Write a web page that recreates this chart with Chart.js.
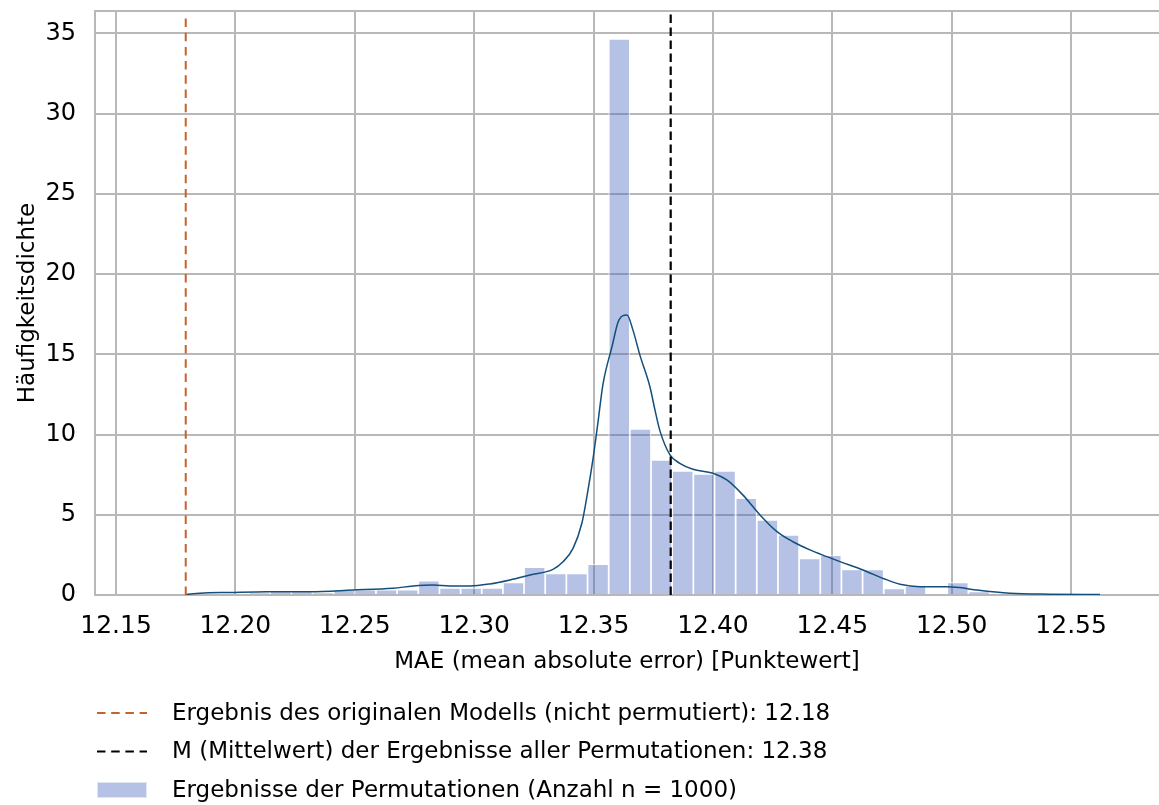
<!DOCTYPE html>
<html lang="de">
<head>
<meta charset="utf-8">
<title>Permutationstest MAE</title>
<script src="https://cdn.jsdelivr.net/npm/chart.js@4/dist/chart.umd.min.js"></script>
<style>
  html, body { margin: 0; padding: 0; background: #fff; }
  #wrap { width: 1159px; height: 805px; position: relative; }
</style>
</head>
<body>
<div id="wrap"><canvas id="histChart" width="1159" height="805"></canvas></div>
<script>
// Histogramm: Bin-Mitten und Häufigkeitsdichte
const binMitten = [
  12.21013, 12.21899, 12.22785, 12.23671, 12.24557, 12.25443, 12.26330, 12.27216,
  12.28102, 12.28988, 12.29874, 12.30760, 12.31646, 12.32532, 12.33418, 12.34304,
  12.35190, 12.36077, 12.36963, 12.37849, 12.38735, 12.39621, 12.40507, 12.41393,
  12.42279, 12.43165, 12.44051, 12.44937, 12.45823, 12.46709, 12.47596, 12.48482,
  12.49368, 12.50254, 12.51140
];
const dichte = [
  0.11, 0.23, 0.23, 0.11, 0.34, 0.34, 0.34, 0.34,
  0.90, 0.45, 0.45, 0.45, 0.79, 1.73, 1.35, 1.35,
  1.93, 34.67, 10.36, 8.42, 7.74, 7.55, 7.74, 6.03,
  4.68, 3.74, 2.29, 2.48, 1.60, 1.60, 0.42, 0.56,
  0, 0.79, 0.23
];

// Kerndichteschätzung (KDE-Kurve)
const kdeX = [
  12.1793, 12.1852, 12.1977, 12.2132, 12.2312, 12.2492, 12.2660, 12.2744, 12.2827,
  12.2899, 12.2982, 12.3066, 12.3150, 12.3234, 12.3330, 12.3372, 12.3414, 12.3451,
  12.3472, 12.3497, 12.3518, 12.3539, 12.3577, 12.3606, 12.3640, 12.3665, 12.3694,
  12.3736, 12.3757, 12.3778, 12.3820, 12.3861, 12.3916, 12.4000, 12.4058, 12.4125,
  12.4197, 12.4268, 12.4335, 12.4406, 12.4477, 12.4532, 12.4628, 12.4729, 12.4783,
  12.4867, 12.4980, 12.5034, 12.5106, 12.5244, 12.5411, 12.5621
];
const kdeY = [
  0.03, 0.11, 0.16, 0.21, 0.21, 0.31, 0.42, 0.56, 0.62,
  0.56, 0.56, 0.69, 0.94, 1.25, 1.60, 2.07, 2.91, 4.47,
  6.13, 8.42, 10.71, 13.10, 15.47, 17.13, 17.45, 16.51, 14.95,
  12.98, 11.54, 10.23, 8.73, 8.21, 7.84, 7.59, 7.17, 6.24,
  4.99, 3.95, 3.32, 2.81, 2.39, 2.08, 1.56, 0.94, 0.67,
  0.52, 0.52, 0.46, 0.31, 0.11, 0.05, 0.03
];

// Referenzlinien
const originalWert = 12.1792;
const mittelWert = 12.3823;
const linienHoehe = [0, 36.2];

// Achsen
const xTicks = [12.15, 12.20, 12.25, 12.30, 12.35, 12.40, 12.45, 12.50, 12.55];
const yTicks = [0, 5, 10, 15, 20, 25, 30, 35];

const legendTexte = [
  'Ergebnis des originalen Modells (nicht permutiert): 12.18',
  'M (Mittelwert) der Ergebnisse aller Permutationen: 12.38',
  'Ergebnisse der Permutationen (Anzahl n = 1000)'
];

const FONT = '"DejaVu Sans", Verdana, sans-serif';
const GRAU = '#b8b8b8';
const ORANGE = '#c6622c';
const BALKEN = 'rgba(70, 100, 190, 0.4)';
const KDE_FARBE = '#134f7c';

// Rahmen oben (die anderen Kanten kommen von den Achsen)
const rahmenPlugin = {
  id: 'rahmen',
  beforeDatasetsDraw(chart) {
    const { ctx, chartArea } = chart;
    ctx.save();
    ctx.strokeStyle = GRAU;
    ctx.lineWidth = 2;
    ctx.beginPath();
    ctx.moveTo(chartArea.left, chartArea.top);
    ctx.lineTo(chartArea.right, chartArea.top);
    ctx.stroke();
    ctx.restore();
  }
};

// Legende unter dem Diagramm
const legendePlugin = {
  id: 'legendeUnten',
  afterDraw(chart) {
    const ctx = chart.ctx;
    ctx.save();
    ctx.font = '23px ' + FONT;
    ctx.textBaseline = 'middle';
    ctx.textAlign = 'left';
    const farben = [ORANGE, '#000000'];
    legendTexte.forEach((text, i) => {
      const y = 713 + i * 38.5;
      if (i < 2) {
        ctx.strokeStyle = farben[i];
        ctx.lineWidth = 2;
        ctx.setLineDash([8.5, 5.7]);
        ctx.beginPath();
        ctx.moveTo(97, y);
        ctx.lineTo(147, y);
        ctx.stroke();
        ctx.setLineDash([]);
      } else {
        ctx.fillStyle = BALKEN;
        ctx.fillRect(97, y - 8, 50, 16);
        ctx.strokeStyle = 'rgba(255,255,255,0.6)';
        ctx.lineWidth = 1;
        ctx.strokeRect(97.5, y - 7.5, 49, 15);
      }
      ctx.fillStyle = '#000';
      ctx.fillText(text, 172, y + 1);
    });
    ctx.restore();
  }
};

new Chart(document.getElementById('histChart'), {
  type: 'bar',
  data: {
    datasets: [
      {
        type: 'line',
        label: legendTexte[0],
        data: linienHoehe.map(y => ({ x: originalWert, y: y })),
        borderColor: ORANGE,
        borderWidth: 2,
        borderDash: [8.5, 5.7],
        pointRadius: 0,
        order: 1
      },
      {
        type: 'line',
        label: legendTexte[1],
        data: linienHoehe.map(y => ({ x: mittelWert, y: y })),
        borderColor: '#000000',
        borderWidth: 2.2,
        borderDash: [8.5, 4.5],
        pointRadius: 0,
        order: 1
      },
      {
        type: 'line',
        label: 'KDE',
        data: kdeX.map((x, i) => ({ x: x, y: kdeY[i] })),
        borderColor: KDE_FARBE,
        borderWidth: 1.5,
        cubicInterpolationMode: 'monotone',
        pointRadius: 0,
        order: 2
      },
      {
        type: 'bar',
        label: legendTexte[2],
        data: binMitten.map((x, i) => ({ x: x, y: dichte[i] })),
        backgroundColor: BALKEN,
        borderColor: 'rgba(255,255,255,0.55)',
        borderWidth: 1.2,
        barPercentage: 1,
        categoryPercentage: 1,
        order: 3
      }
    ]
  },
  options: {
    responsive: false,
    animation: false,
    layout: { padding: { left: 0, right: 0, top: 11, bottom: 129 } },
    plugins: {
      legend: { display: false },
      tooltip: { enabled: false }
    },
    scales: {
      x: {
        type: 'linear',
        offset: false,
        min: 12.1412,
        max: 12.5868,
        afterBuildTicks: s => { s.ticks = xTicks.map(v => ({ value: v })); },
        afterFit: s => { s.height = 81; s.paddingLeft = 0; s.paddingRight = 0; },
        grid: { offset: false, color: GRAU, lineWidth: 2, drawTicks: false },
        border: { color: GRAU, width: 2 },
        ticks: {
          padding: 16,
          color: '#000',
          font: { family: FONT, size: 25 },
          maxRotation: 0,
          callback: v => v.toFixed(2)
        },
        title: {
          display: true,
          text: 'MAE (mean absolute error) [Punktewert]',
          color: '#000',
          font: { family: FONT, size: 23 },
          padding: { top: 0, bottom: 0 }
        }
      },
      y: {
        min: 0,
        max: 36.4,
        afterBuildTicks: s => { s.ticks = yTicks.map(v => ({ value: v })); },
        afterFit: s => { s.width = 95; s.paddingTop = 0; s.paddingBottom = 0; },
        grid: { color: GRAU, lineWidth: 2, drawTicks: false },
        border: { color: GRAU, width: 2 },
        ticks: {
          padding: 19,
          color: '#000',
          font: { family: FONT, size: 24 }
        },
        title: {
          display: true,
          text: 'Häufigkeitsdichte',
          color: '#000',
          font: { family: FONT, size: 23 },
          padding: { top: 14, bottom: 0 }
        }
      }
    }
  },
  plugins: [rahmenPlugin, legendePlugin]
});
</script>
</body>
</html>
